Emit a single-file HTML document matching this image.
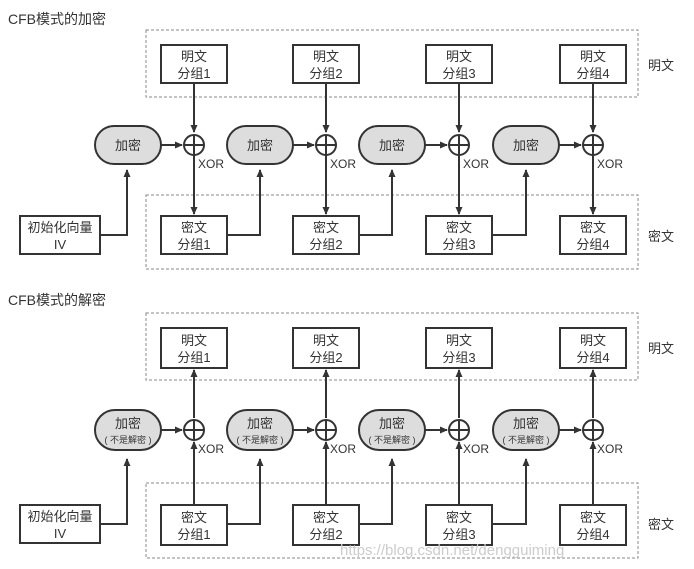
<!DOCTYPE html><html><head><meta charset="utf-8"><style>body{margin:0;background:#fff}svg{display:block}text{font-family:"Liberation Sans","Noto Sans CJK SC",sans-serif;fill:#333}</style></head><body>
<svg width="694" height="569" viewBox="0 0 694 569" xmlns="http://www.w3.org/2000/svg">
<defs><marker id="a" markerWidth="8" markerHeight="8" refX="7" refY="4" orient="auto" markerUnits="userSpaceOnUse"><path d="M0,0.5 L8,4 L0,7.5z" fill="#333"/></marker></defs>
<g id="top">
<text x="8" y="24" font-size="14">CFB模式的加密</text>
<rect x="146" y="30" width="492" height="67" fill="none" stroke="#888" stroke-dasharray="3,2"/>
<rect x="146" y="195" width="492" height="74" fill="none" stroke="#888" stroke-dasharray="3,2"/>
<text x="648" y="70" font-size="13">明文</text><text x="648" y="241" font-size="13">密文</text>
<rect x="20" y="216" width="80" height="38" fill="#fff" stroke="#333" stroke-width="2"/>
<text x="60" y="232" font-size="13" text-anchor="middle">初始化向量</text><text x="60" y="249" font-size="13" text-anchor="middle">IV</text>
<path d="M100,235 H127 V170" fill="none" stroke="#333" stroke-width="2" marker-end="url(#a)"/>
</g>
<g id="cols"></g>
<g id="bot">
<text x="8" y="305" font-size="14">CFB模式的解密</text>
<rect x="146" y="313" width="492" height="67" fill="none" stroke="#888" stroke-dasharray="3,2"/>
<rect x="146" y="483" width="492" height="75" fill="none" stroke="#888" stroke-dasharray="3,2"/>
<text x="648" y="353" font-size="13">明文</text><text x="648" y="529" font-size="13">密文</text>
<rect x="20" y="505" width="80" height="38" fill="#fff" stroke="#333" stroke-width="2"/>
<text x="60" y="521" font-size="13" text-anchor="middle">初始化向量</text><text x="60" y="538" font-size="13" text-anchor="middle">IV</text>
<path d="M100,524 H127 V459" fill="none" stroke="#333" stroke-width="2" marker-end="url(#a)"/>
</g>
<!-- columns generated inline -->
<g stroke="#333" stroke-width="2" fill="none">
<!-- encryption -->
<path d="M194,83 V132" marker-end="url(#a)"/><path d="M194,155 V214" marker-end="url(#a)"/>
<path d="M326,83 V132" marker-end="url(#a)"/><path d="M326,155 V214" marker-end="url(#a)"/>
<path d="M459,83 V132" marker-end="url(#a)"/><path d="M459,155 V214" marker-end="url(#a)"/>
<path d="M593,83 V132" marker-end="url(#a)"/><path d="M593,155 V214" marker-end="url(#a)"/>
<path d="M161,145 H182" marker-end="url(#a)"/><path d="M293,145 H314" marker-end="url(#a)"/><path d="M425,145 H447" marker-end="url(#a)"/><path d="M559,145 H581" marker-end="url(#a)"/>
<path d="M227,235 H260 V170" marker-end="url(#a)"/><path d="M359,235 H392 V170" marker-end="url(#a)"/><path d="M492,235 H526 V170" marker-end="url(#a)"/>
<!-- decryption -->
<path d="M194,505 V442" marker-end="url(#a)"/><path d="M194,418 V370" marker-end="url(#a)"/>
<path d="M326,505 V442" marker-end="url(#a)"/><path d="M326,418 V370" marker-end="url(#a)"/>
<path d="M459,505 V442" marker-end="url(#a)"/><path d="M459,418 V370" marker-end="url(#a)"/>
<path d="M593,505 V442" marker-end="url(#a)"/><path d="M593,418 V370" marker-end="url(#a)"/>
<path d="M161,430 H182" marker-end="url(#a)"/><path d="M293,430 H314" marker-end="url(#a)"/><path d="M425,430 H447" marker-end="url(#a)"/><path d="M559,430 H581" marker-end="url(#a)"/>
<path d="M227,524 H260 V459" marker-end="url(#a)"/><path d="M359,524 H392 V459" marker-end="url(#a)"/><path d="M492,524 H526 V459" marker-end="url(#a)"/>
</g>
<g stroke="#333" stroke-width="2" fill="#fff">
<rect x="161" y="45" width="66" height="38"/><rect x="293" y="45" width="66" height="38"/><rect x="426" y="45" width="66" height="38"/><rect x="560" y="45" width="66" height="38"/>
<rect x="161" y="216" width="66" height="38"/><rect x="293" y="216" width="66" height="38"/><rect x="426" y="216" width="66" height="38"/><rect x="560" y="216" width="66" height="38"/>
<rect x="161" y="328" width="66" height="40"/><rect x="293" y="328" width="66" height="40"/><rect x="426" y="328" width="66" height="40"/><rect x="560" y="328" width="66" height="40"/>
<rect x="161" y="505" width="66" height="40"/><rect x="293" y="505" width="66" height="40"/><rect x="426" y="505" width="66" height="40"/><rect x="560" y="505" width="66" height="40"/>
</g>
<g stroke="#333" stroke-width="2" fill="#ddd">
<rect x="95" y="126" width="66" height="38" rx="19"/><rect x="227" y="126" width="66" height="38" rx="19"/><rect x="359" y="126" width="66" height="38" rx="19"/><rect x="493" y="126" width="66" height="38" rx="19"/>
<rect x="95" y="410" width="66" height="40" rx="20"/><rect x="227" y="410" width="66" height="40" rx="20"/><rect x="359" y="410" width="66" height="40" rx="20"/><rect x="493" y="410" width="66" height="40" rx="20"/>
</g>
<g stroke="#333" stroke-width="2" fill="#fff">
<circle cx="194" cy="145" r="10"/><circle cx="326" cy="145" r="10"/><circle cx="459" cy="145" r="10"/><circle cx="593" cy="145" r="10"/>
<circle cx="194" cy="430" r="10"/><circle cx="326" cy="430" r="10"/><circle cx="459" cy="430" r="10"/><circle cx="593" cy="430" r="10"/>
</g>
<g stroke="#333" stroke-width="2">
<path d="M184,145H204M194,135V155M316,145H336M326,135V155M449,145H469M459,135V155M583,145H603M593,135V155"/>
<path d="M184,430H204M194,420V440M316,430H336M326,420V440M449,430H469M459,420V440M583,430H603M593,420V440"/>
</g>
<g font-size="13" text-anchor="middle">
<text x="194" y="61">明文</text><text x="194" y="78">分组1</text><text x="326" y="61">明文</text><text x="326" y="78">分组2</text><text x="459" y="61">明文</text><text x="459" y="78">分组3</text><text x="593" y="61">明文</text><text x="593" y="78">分组4</text>
<text x="194" y="232">密文</text><text x="194" y="249">分组1</text><text x="326" y="232">密文</text><text x="326" y="249">分组2</text><text x="459" y="232">密文</text><text x="459" y="249">分组3</text><text x="593" y="232">密文</text><text x="593" y="249">分组4</text>
<text x="194" y="345">明文</text><text x="194" y="362">分组1</text><text x="326" y="345">明文</text><text x="326" y="362">分组2</text><text x="459" y="345">明文</text><text x="459" y="362">分组3</text><text x="593" y="345">明文</text><text x="593" y="362">分组4</text>
<text x="194" y="522">密文</text><text x="194" y="539">分组1</text><text x="326" y="522">密文</text><text x="326" y="539">分组2</text><text x="459" y="522">密文</text><text x="459" y="539">分组3</text><text x="593" y="522">密文</text><text x="593" y="539">分组4</text>
<text x="128" y="150">加密</text><text x="260" y="150">加密</text><text x="392" y="150">加密</text><text x="526" y="150">加密</text>
<text x="128" y="428">加密</text><text x="260" y="428">加密</text><text x="392" y="428">加密</text><text x="526" y="428">加密</text>
<g font-size="9"><text x="128" y="443">( 不是解密 )</text><text x="260" y="443">( 不是解密 )</text><text x="392" y="443">( 不是解密 )</text><text x="526" y="443">( 不是解密 )</text></g>
</g>
<g font-size="12">
<text x="198" y="168">XOR</text><text x="330" y="168">XOR</text><text x="463" y="168">XOR</text><text x="597" y="168">XOR</text>
<text x="198" y="453">XOR</text><text x="330" y="453">XOR</text><text x="463" y="453">XOR</text><text x="597" y="453">XOR</text>
</g>
<text x="340" y="555" font-size="15" style="fill:#ccc" font-family="Liberation Mono">https://blog.csdn.net/dengguiming</text>
</svg></body></html>
